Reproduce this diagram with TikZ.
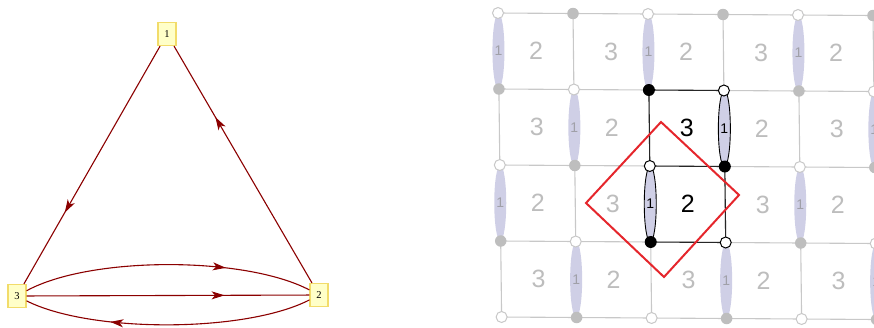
\documentclass[tikz,border=0pt]{standalone}
\usepackage{fontspec}
\setmainfont{Liberation Serif}
\newfontfamily\gridfont{Liberation Sans}
\usetikzlibrary{arrows.meta,decorations.markings,shapes.geometric}

\definecolor{edgered}{HTML}{8B0000}
\definecolor{boxfill}{HTML}{FFFFC8}
\definecolor{boxline}{HTML}{F2DC6A}
\definecolor{gridgray}{HTML}{C8C8C8}
\definecolor{dotgray}{HTML}{BEBEBE}
\definecolor{labelgray}{HTML}{BDBDBD}
\definecolor{lavender}{HTML}{CFCFE6}
\definecolor{lenstext}{HTML}{A0A0A8}
\definecolor{diamondcol}{HTML}{E5262C}

\tikzset{
  vbox/.style={draw=boxline, fill=boxfill, line width=1.1pt, inner sep=0pt,
    minimum width=18pt, minimum height=23pt, font=\fontsize{10.5}{10.5}\selectfont},
  arc/.style={draw=edgered, line width=1.1pt,
    decoration={markings, mark=at position 0.7 with
      {\arrow{Stealth[length=13pt,width=8pt,inset=3.5pt]}}},
    postaction={decorate}},
  gridline/.style={draw=gridgray, line width=1.1pt},
  frameline/.style={draw=black!85, line width=1.1pt},
  facelabel/.style={text=labelgray, inner sep=0pt,
    font=\gridfont\fontsize{25}{25}\selectfont},
  facebold/.style={facelabel, text=black},
  lens/.style={ellipse, fill=lavender, inner sep=0pt, minimum width=12pt,
    minimum height=76pt, text=lenstext, font=\gridfont\fontsize{14}{14}\selectfont},
  lensbold/.style={lens, draw=black, line width=0.9pt, text=black},
  wv/.style={circle, inner sep=0pt, minimum size=11pt, fill=white, draw=gridgray, line width=1pt},
  wb/.style={wv, draw=black},
  gv/.style={circle, inner sep=0pt, minimum size=11.5pt, fill=dotgray},
  bv/.style={circle, inner sep=0pt, minimum size=12pt, fill=black},
  diamondline/.style={draw=diamondcol, line width=2pt, line join=miter}
}

\begin{document}
\begin{tikzpicture}[x=1pt, y=-1pt]
\useasboundingbox (0,0) rectangle (874,327);

% ---- quiver with three vertices ----
\node[vbox] (n1) at (167,34) {1};
\node[vbox] (n2) at (319,295) {2};
\node[vbox] (n3) at (17,296) {3};

\draw[arc] (n1) -- (n3);
\draw[arc] (n2) -- (n1);
\draw[arc] (n3) .. controls (90,256) and (245,256) .. (n2);
\draw[arc] (n3) -- (n2);
\draw[arc] (n2) .. controls (245,333) and (90,333) .. (n3);

% ---- brane tiling ----
\foreach \i in {0,...,5}
  \foreach \j in {0,...,4}
    \coordinate (v-\i-\j) at ({498+75*\i+0.9*\j},{13+76*\j+0.5*\i});

\foreach \j in {0,...,4}
  \draw[gridline] (v-0-\j) -- (v-5-\j);
\foreach \i in {0,...,5}
  \draw[gridline] (v-\i-0) -- (v-\i-4);

% outlined fundamental domain
\draw[frameline] (v-2-1) -- (v-3-1) -- (v-3-3) -- (v-2-3) -- cycle;
\draw[frameline] (v-2-2) -- (v-3-2);

% face labels: 2 and 3 alternate
\foreach \i in {0,...,4}
  \foreach \j in {0,...,3} {
    \pgfmathtruncatemacro\s{\i+\j}
    \pgfmathtruncatemacro\h{(\i==2)&&((\j==1)||(\j==2))}
    \ifnum\h=1 \def\fst{facebold}\else\def\fst{facelabel}\fi
    \ifodd\s\relax \def\ftxt{3}\else\def\ftxt{2}\fi
    \node[\fst] (f-\i-\j) at ({498+75*(\i+0.5)+0.9*(\j+0.5)},{13+76*(\j+0.5)+0.5*(\i+0.5)})
      {\ftxt};
  }

% edges carrying field 1
\foreach \i in {0,...,5}
  \foreach \j in {0,...,3} {
    \pgfmathtruncatemacro\s{\i+\j}
    \pgfmathtruncatemacro\h{((\i==3)&&(\j==1))||((\i==2)&&(\j==2))}
    \ifnum\h=1 \def\lst{lensbold}\else\def\lst{lens}\fi
    \ifodd\s\relax\else
      \node[\lst] (e-\i-\j) at ({498+75*\i+0.9*(\j+0.5)},{13+76*(\j+0.5)+0.5*\i}) {1};
    \fi
  }

% nodes of the tiling
\foreach \i in {0,...,5}
  \foreach \j in {0,...,4} {
    \pgfmathtruncatemacro\s{\i+\j}
    \pgfmathtruncatemacro\h{(\i>1)&&(\i<4)&&(\j>0)&&(\j<4)}
    \ifodd\s\relax
      \ifnum\h=1 \def\vst{bv}\else\def\vst{gv}\fi
    \else
      \ifnum\h=1 \def\vst{wb}\else\def\vst{wv}\fi
    \fi
    \node[\vst] (d-\i-\j) at (v-\i-\j) {};
  }

% red diamond
\coordinate (dT) at (661,122);
\coordinate (dR) at (739,195);
\coordinate (dB) at (664,277);
\coordinate (dL) at (586,203);
\draw[diamondline] (dT) -- (dR) -- (dB) -- (dL) -- cycle;
\end{tikzpicture}
\end{document}
